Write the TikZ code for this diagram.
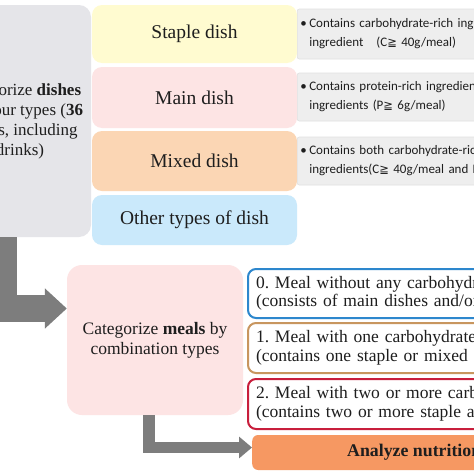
\documentclass[tikz,border=0pt]{standalone}
\usepackage{fontspec}
\setmainfont{Liberation Serif}
\newfontfamily\calib{Carlito}
\newfontfamily\dejav{DejaVu Sans}
\usetikzlibrary{arrows.meta}
\definecolor{boxgray}{RGB}{229,229,233}
\definecolor{stapleY}{RGB}{255,251,208}
\definecolor{mainP}{RGB}{253,228,228}
\definecolor{mixedO}{RGB}{251,214,180}
\definecolor{otherB}{RGB}{202,233,251}
\definecolor{infoG}{RGB}{238,238,238}
\definecolor{blueB}{RGB}{45,135,205}
\definecolor{tanB}{RGB}{200,150,95}
\definecolor{redB}{RGB}{200,30,60}
\definecolor{orangeF}{RGB}{246,152,98}
\definecolor{arrowG}{RGB}{125,125,125}
\definecolor{txt}{RGB}{30,30,30}
\newcommand{\geqsym}{{\dejav\fontsize{11.5}{19}\selectfont ≧}}
\frenchspacing
\begin{document}
\frenchspacing
\begin{tikzpicture}[x=1pt,y=-1pt,
  every node/.style={text=txt},
  bigbox/.style={fill=boxgray, rounded corners=12pt, inner sep=0pt,
     font=\fontsize{17}{20}\selectfont, align=center},
  dishbox/.style={rounded corners=10pt, minimum width=205pt, inner sep=0pt,
     font=\fontsize{19.5}{22}\selectfont},
  infobox/.style={fill=infoG, draw=black!12, line width=0.6pt, rounded corners=2pt,
     anchor=west, inner xsep=3pt, text width=300pt, align=left,
     font=\calib\fontsize{13}{19}\selectfont},
  mealbox/.style={fill=white, line width=2pt, rounded corners=8pt, anchor=west,
     inner xsep=8pt, text width=500pt, align=left, minimum height=49pt,
     font=\fontsize{17.5}{18.5}\selectfont},
  fatarrow/.style={draw=arrowG, line cap=butt}
]
\useasboundingbox (0,0) rectangle (474,474);
\clip (0,0) rectangle (474,474);
\fill[white] (0,0) rectangle (474,474);

% left big box
\node[bigbox, minimum width=142pt, minimum height=232pt] (cat) at (20,121)
  {Categorize \textbf{dishes}\\into four types (\textbf{36}\\dishes, including\\drinks)};

% dish type boxes
\node[dishbox, fill=stapleY, minimum height=58pt] (staple) at (194.5,34) {Staple dish};
\node[dishbox, fill=mainP, minimum height=61pt] (main) at (194.5,97.5) {Main dish};
\node[dishbox, fill=mixedO, minimum height=60pt] (mixed) at (194.5,161) {Mixed dish};
\node[dishbox, fill=otherB, minimum height=50pt] (other) at (194.5,220) {Other types of dish};

% info boxes
\node[infobox, minimum height=50pt] (istaple) at (297,34)
  {\makebox[9pt][l]{•}Contains carbohydrate-rich ingredients as the main\\
   \hspace*{9pt}ingredient\ \ \ (C\geqsym\ 40g/meal)};
\node[infobox, minimum height=48pt] (imain) at (297,97)
  {\makebox[9pt][l]{•}Contains protein-rich ingredients as the main\\
   \hspace*{9pt}ingredients (P\geqsym\ 6g/meal)};
\node[infobox, minimum height=48pt] (imixed) at (297,161)
  {\makebox[9pt][l]{•}Contains both carbohydrate-rich and protein-rich\\
   \hspace*{9pt}ingredients(C\geqsym\ 40g/meal and P\geqsym\ 6g/meal)};

% meals box
\node[fill=mainP, rounded corners=15pt, minimum width=176pt, minimum height=150pt,
      inner sep=0pt, align=center, font=\fontsize{17.5}{20}\selectfont]
  (meals) at (155,340) {Categorize \textbf{meals} by\\combination types};

% meal type boxes
\node[mealbox, draw=blueB] (m0) at (247,293.5)
  {0. Meal without any carbohydrate-rich dish\\(consists of main dishes and/or other types of dish)};
\node[mealbox, draw=tanB, minimum height=50pt] (m1) at (247,348)
  {1. Meal with one carbohydrate-rich dish\\(contains one staple or mixed dish)};
\node[mealbox, draw=redB, minimum height=50pt] (m2) at (247,404)
  {2. Meal with two or more carbohydrate-rich dishes\\(contains two or more staple and/or mixed dishes)};

% analyze box
\node[fill=orangeF, rounded corners=6pt, minimum width=400pt, minimum height=35pt,
      anchor=west, inner sep=0pt] (an) at (252,452.5) {};
\node[anchor=west, inner sep=0pt, font=\bfseries\fontsize{17.8}{20}\selectfont]
  (antext) at ([xshift=95pt]an.west) {Analyze nutritional intake by meal type};

% arrows
\draw[fatarrow, line width=27pt, -{Triangle[length=22pt,width=39pt]}]
  ([xshift=-16.5pt]cat.south) |- ([yshift=31.5pt]meals.west);
\draw[fatarrow, line width=11.5pt, -{Triangle[length=13pt,width=21pt]}]
  ([xshift=-6pt]meals.south) |- ([yshift=5pt]an.west);
\end{tikzpicture}
\end{document}
